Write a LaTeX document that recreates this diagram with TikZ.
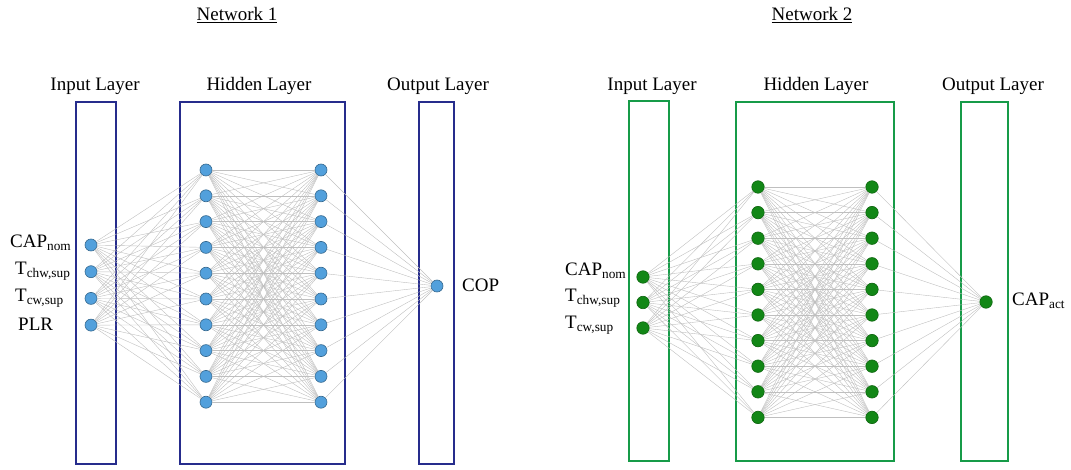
\documentclass[tikz,border=0pt]{standalone}
\usepackage{fontspec}
\setmainfont{Liberation Serif}
\usetikzlibrary{calc}
\definecolor{boxblue}{RGB}{38,44,140}
\definecolor{dotblue}{RGB}{82,160,220}
\definecolor{boxgreen}{RGB}{22,155,72}
\definecolor{dotgreen}{RGB}{18,135,22}

\begin{document}
\begin{tikzpicture}[x=1pt, y=-1pt,
  bluebox/.style={draw=boxblue, line width=2.7pt},
  greenbox/.style={draw=boxgreen, line width=2.7pt},
  bluedot/.style={circle, fill=dotblue, draw=dotblue!65!black, line width=0.6pt, minimum size=12pt, inner sep=0pt},
  greendot/.style={circle, fill=dotgreen, draw=dotgreen!75!black, line width=0.6pt, minimum size=12.5pt, inner sep=0pt},
  link/.style={draw=gray!50, line width=0.4pt},
  txt/.style={font=\fontsize{19}{22}\selectfont, inner sep=0pt}]

\useasboundingbox (0,0) rectangle (1071,470);

% Network 1
\node[txt] (title1) at (237,15) {\underline{Network 1}};
\node[txt] (inlab1) at (95,86) {Input Layer};
\node[txt] (hidlab1) at (259,86) {Hidden Layer};
\node[txt] (outlab1) at (438,86) {Output Layer};

\draw[bluebox] (76,102) rectangle (116,464);
\draw[bluebox] (180,102) rectangle (345,464);
\draw[bluebox] (419,102) rectangle (454,464);

\foreach \k in {0,...,3} \node[bluedot] (ia\k) at (91,{245+26.7*\k}) {};
\foreach \k in {0,...,9} {
  \node[bluedot] (ha\k) at (206,{170+25.8*\k}) {};
  \node[bluedot] (ga\k) at (321,{170+25.8*\k}) {};
}
\node[bluedot] (oa) at (437,286) {};

\node[txt, anchor=west] (capa) at (10,243) {CAP\textsubscript{nom}};
\node[txt, anchor=west] (tchwa) at (15,271) {T\textsubscript{chw,sup}};
\node[txt, anchor=west] (tcwa) at (15,298) {T\textsubscript{cw,sup}};
\node[txt, anchor=west] (plra) at (18,324) {PLR};
\node[txt, anchor=west] (copa) at (462,285) {COP};

\foreach \i in {0,...,3}
  \foreach \j in {0,...,9} \draw[link] (ia\i) -- (ha\j);
\foreach \i in {0,...,9} {
  \foreach \j in {0,...,9} \draw[link] (ha\i) -- (ga\j);
  \draw[link] (ga\i) -- (oa);
}

% Network 2
\node[txt] (title2) at (812,15) {\underline{Network 2}};
\node[txt] (inlab2) at (652,86) {Input Layer};
\node[txt] (hidlab2) at (816,86) {Hidden Layer};
\node[txt] (outlab2) at (993,86) {Output Layer};

\draw[greenbox] (629,101) rectangle (669,461);
\draw[greenbox] (736,102) rectangle (894,461);
\draw[greenbox] (961,102) rectangle (1008,461);

\foreach \k in {0,...,2} \node[greendot] (ib\k) at (643,{277+25.5*\k}) {};
\foreach \k in {0,...,9} {
  \node[greendot] (hb\k) at (758,{187+25.6*\k}) {};
  \node[greendot] (gb\k) at (872,{187+25.6*\k}) {};
}
\node[greendot] (ob) at (986,302) {};

\node[txt, anchor=west] (capb) at (565,271) {CAP\textsubscript{nom}};
\node[txt, anchor=west] (tchwb) at (565,298) {T\textsubscript{chw,sup}};
\node[txt, anchor=west] (tcwb) at (565,325) {T\textsubscript{cw,sup}};
\node[txt, anchor=west] (capc) at (1012,301) {CAP\textsubscript{act}};

\foreach \i in {0,...,2}
  \foreach \j in {0,...,9} \draw[link] (ib\i) -- (hb\j);
\foreach \i in {0,...,9} {
  \foreach \j in {0,...,9} \draw[link] (hb\i) -- (gb\j);
  \draw[link] (gb\i) -- (ob);
}

\end{tikzpicture}
\end{document}
